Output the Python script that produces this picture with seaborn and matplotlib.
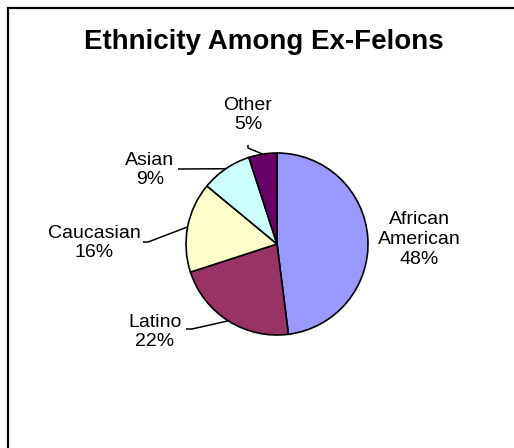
import numpy as np
import matplotlib
matplotlib.use("Agg")
import matplotlib.pyplot as plt
from matplotlib.lines import Line2D
import seaborn as sns

# ---- data ----
categories = ["African\nAmerican", "Latino", "Caucasian", "Asian", "Other"]
values = [48, 22, 16, 9, 5]
colors = ["#9999FF", "#993366", "#FFFFCC", "#CCFFFF", "#660066"]
title = "Ethnicity Among Ex-Felons"

# ---- layout (pixel coordinates, y from top) ----
W, H = 514, 448
pie_center = (277, 244)
pie_radius = 91
label_pos = [(419.5, 239.5), (155, 332), (94, 243), (150, 170), (248, 115)]
# leader line: label-end point and elbow point (None = no leader)
leader = [None,
          [(186, 329), (192, 329)],
          [(143, 242), (148, 242)],
          [(178, 169), (178, 169)],
          [(248, 145), (248, 148)]]

sns.set_theme(style="white")
plt.rcParams["font.family"] = ["Liberation Sans", "DejaVu Sans"]

fig = plt.figure(figsize=(W / 100, H / 100), dpi=100)
fig.patch.set_facecolor("white")
ax = fig.add_axes([0, 0, 1, 1])

def fy(y):
    return H - y

wedges, _ = ax.pie(values, colors=colors, startangle=90, counterclock=False,
                   center=(pie_center[0], fy(pie_center[1])), radius=pie_radius,
                   wedgeprops=dict(edgecolor="black", linewidth=1.2))
ax.set_xlim(0, W)
ax.set_ylim(0, H)
ax.set_axis_off()

for w, cat, v, pos, ld in zip(wedges, categories, values, label_pos, leader):
    ax.text(pos[0], fy(pos[1]), f"{cat}\n{v}%", ha="center", va="center",
            fontsize=14, color="black", linespacing=1.2)
    if ld is not None:
        ang = np.deg2rad((w.theta1 + w.theta2) / 2)
        cx, cy = w.center
        ex = cx + w.r * np.cos(ang)
        ey = cy + w.r * np.sin(ang)
        xs = [ld[0][0], ld[1][0], ex]
        ys = [fy(ld[0][1]), fy(ld[1][1]), ey]
        ax.plot(xs, ys, color="black", linewidth=1.1, solid_capstyle="butt")

fig.text(264 / W, 1 - 42 / H, title, ha="center", va="center",
         fontsize=20, fontweight="bold", color="black")

# outer frame (left and top edges only visible)
fx = 8 / W
ftop = 1 - 8 / H
fig.lines.append(Line2D([fx, fx, 1.05], [-0.05, ftop, ftop],
                        transform=fig.transFigure, color="black",
                        linewidth=1.6, solid_joinstyle="miter"))

fig.savefig("out.png", dpi=100, facecolor="white")
